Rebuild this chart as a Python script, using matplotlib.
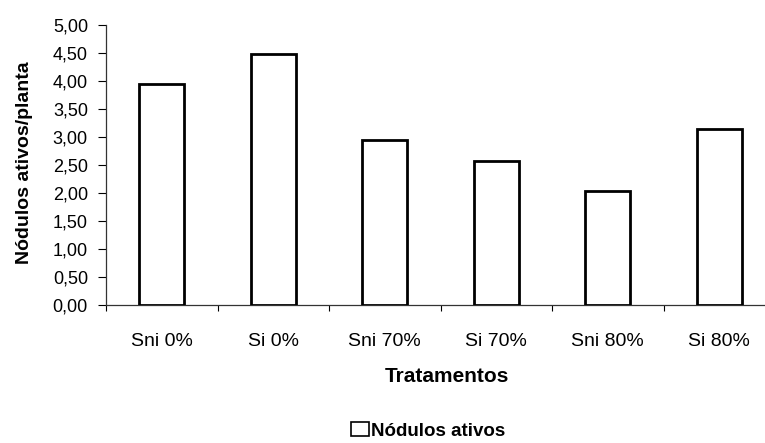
import matplotlib
matplotlib.use("Agg")
import matplotlib.pyplot as plt
from matplotlib.patches import Patch
from matplotlib.ticker import FixedLocator, FuncFormatter

plt.rcParams['font.family'] = ['Liberation Sans', 'DejaVu Sans']

tratamentos = ["Sni 0%", "Si 0%", "Sni 70%", "Si 70%", "Sni 80%", "Si 80%"]
nodulos_ativos = [3.95, 4.48, 2.95, 2.57, 2.04, 3.14]
y_ticks = [0.0, 0.5, 1.0, 1.5, 2.0, 2.5, 3.0, 3.5, 4.0, 4.5, 5.0]

W, H = 765, 443
fig = plt.figure(figsize=(W / 100, H / 100), dpi=100)
ax = fig.add_axes([106 / W, 138 / H, 669 / W, 280 / H])

x = list(range(len(tratamentos)))
ax.bar(x, nodulos_ativos, width=0.4, color="white", edgecolor="black",
       linewidth=2.0, zorder=3)

ax.set_xlim(-0.5, len(tratamentos) - 0.5)
ax.set_ylim(0, 5)

ax.set_yticks(y_ticks)
ax.yaxis.set_major_formatter(FuncFormatter(lambda v, p: f"{v:.2f}".replace(".", ",")))
ax.tick_params(axis="y", direction="out", length=6, width=0.8, labelsize=13, pad=7)

# category boundaries carry the ticks, labels sit at the centres
ax.xaxis.set_major_locator(FixedLocator([i - 0.5 for i in range(len(tratamentos) + 1)]))
ax.xaxis.set_major_formatter(FuncFormatter(lambda v, p: ""))
ax.xaxis.set_minor_locator(FixedLocator(x))
ax.set_xticklabels(tratamentos, minor=True)
ax.tick_params(axis="x", which="major", direction="out", length=4.5, width=0.8)
ax.tick_params(axis="x", which="minor", length=0, labelsize=14, pad=20)

for side in ("top", "right"):
    ax.spines[side].set_visible(False)
for side in ("left", "bottom"):
    ax.spines[side].set_color("#333333")
    ax.spines[side].set_linewidth(0.9)

ax.set_ylabel("Nódulos ativos/planta", fontsize=14, fontweight="bold")
ax.yaxis.set_label_coords(-0.109, 0.51)
ax.set_xlabel("Tratamentos", fontsize=15, fontweight="bold")
ax.xaxis.set_label_coords(0.51, -0.221)

handle = Patch(facecolor="white", edgecolor="black", linewidth=1.2)
fig.legend([handle], ["Nódulos ativos"], loc="center",
           bbox_to_anchor=(428 / W, 1 - 431 / H), frameon=False,
           prop={"weight": "bold", "size": 13.5},
           handlelength=0.97, handleheight=0.75, handletextpad=0.1,
           borderpad=0.0, borderaxespad=0.0)

fig.savefig("out.png", dpi=100)
